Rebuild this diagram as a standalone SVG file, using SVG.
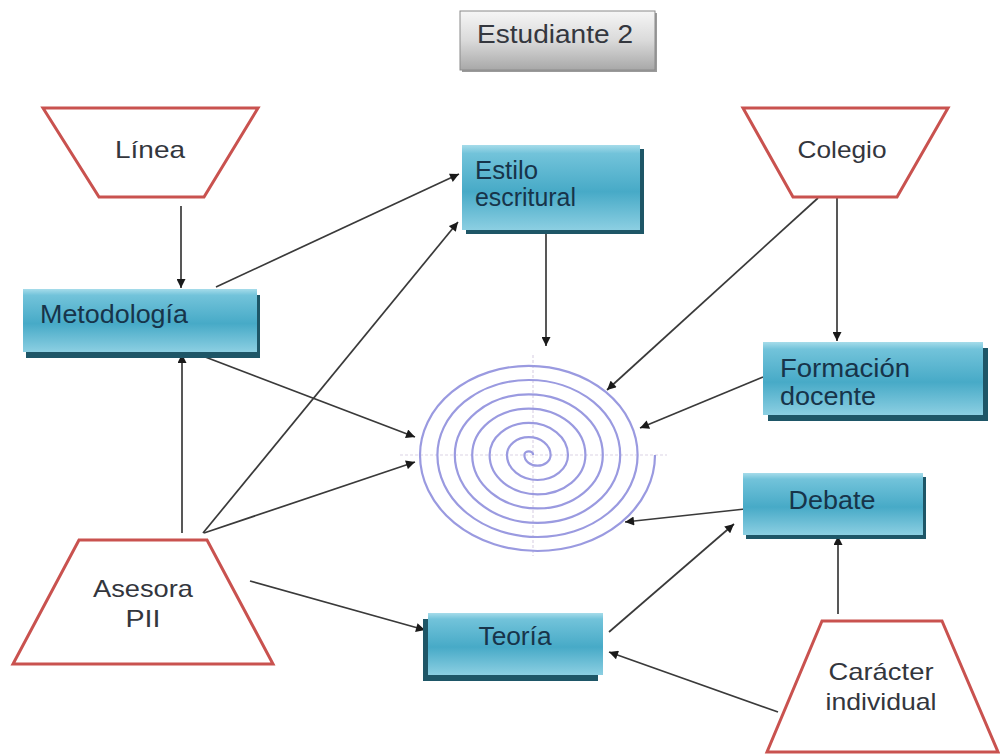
<svg xmlns="http://www.w3.org/2000/svg" width="1000" height="754" viewBox="0 0 1000 754">
  <defs>
    <linearGradient id="blue" x1="0" y1="0" x2="0" y2="1">
      <stop offset="0" stop-color="#a6dcea"/>
      <stop offset="0.1" stop-color="#72c3da"/>
      <stop offset="0.55" stop-color="#47aac7"/>
      <stop offset="1" stop-color="#8ccfe2"/>
    </linearGradient>
    <linearGradient id="gray" x1="0" y1="0" x2="0" y2="1">
      <stop offset="0" stop-color="#f6f6f6"/>
      <stop offset="0.5" stop-color="#dadada"/>
      <stop offset="1" stop-color="#a8a8a8"/>
    </linearGradient>
    <marker id="arr" viewBox="0 0 10 10" refX="10" refY="5" markerWidth="10" markerHeight="9" markerUnits="userSpaceOnUse" orient="auto">
      <path d="M0,0 L10,5 L0,10 z" fill="#1a1a1a"/>
    </marker>
    <style>
      .trap { fill: #ffffff; stroke: #c9524f; stroke-width: 3; stroke-linejoin: miter; }
      .box { fill: url(#blue); }
      .shadow { fill: #1e5667; }
      .ttxt { font-family: "Liberation Sans", Arial, sans-serif; font-size: 24px; fill: #33363d; }
      .btxt { font-family: "Liberation Sans", Arial, sans-serif; font-size: 25px; fill: #17344a; }
      .conn { stroke: #3a3a3a; stroke-width: 1.7; fill: none; marker-end: url(#arr); }
      .spiral { fill: none; stroke: #9a9ae0; stroke-width: 2.2; }
      .axis { stroke: #dcd4e6; stroke-width: 1.2; stroke-dasharray: 3 2; }
    </style>
  </defs>
  <rect width="1000" height="754" fill="#ffffff"/>

  <g id="title">
    <rect x="462" y="13" width="195" height="59" fill="#9a9a9a"/>
    <rect x="460" y="11" width="195" height="59" fill="url(#gray)" stroke="#8a8a8a" stroke-width="1"/>
    <text x="477" y="43" font-family="'Liberation Sans', Arial, sans-serif" font-size="25" fill="#34373e" textLength="156" lengthAdjust="spacingAndGlyphs">Estudiante 2</text>
  </g>

  <g id="spiral">
    <line class="axis" x1="400" y1="455" x2="667" y2="455"/>
    <line class="axis" x1="533" y1="355" x2="533" y2="556"/>
    <path class="spiral" d="M655,455 A117.5,96 0 0 1 420,455 A108.8,89.2 0 0 1 637.6,455 A100.1,82 0 0 1 437.4,455 A91.4,75 0 0 1 620.2,455 A82.7,67.8 0 0 1 454.8,455 A74,60.7 0 0 1 602.8,455 A65.3,53.5 0 0 1 472.2,455 A56.6,46.4 0 0 1 585.4,455 A47.9,39.3 0 0 1 489.6,455 A39.2,32.1 0 0 1 568,455 A30.5,25 0 0 1 507,455 A21.8,17.9 0 0 1 550.6,455 A13.1,10.7 0 0 1 524.4,455 A4.4,3.6 0 0 1 533.2,455"/>
  </g>

  <g id="connectors">
    <line class="conn" x1="181" y1="206" x2="181" y2="288"/>
    <line class="conn" x1="216" y1="287" x2="459" y2="174"/>
    <line class="conn" x1="203" y1="533" x2="458" y2="222"/>
    <line class="conn" x1="182" y1="533" x2="182" y2="354"/>
    <line class="conn" x1="200" y1="355" x2="415" y2="437"/>
    <line class="conn" x1="204" y1="533" x2="415" y2="462"/>
    <line class="conn" x1="546" y1="234" x2="546" y2="346"/>
    <line class="conn" x1="818" y1="198" x2="607" y2="390"/>
    <line class="conn" x1="837" y1="198" x2="837" y2="341"/>
    <line class="conn" x1="763" y1="377" x2="640" y2="428"/>
    <line class="conn" x1="745" y1="509" x2="625" y2="522"/>
    <line class="conn" x1="250" y1="581" x2="425" y2="630"/>
    <line class="conn" x1="609" y1="632" x2="734" y2="524"/>
    <line class="conn" x1="778" y1="712" x2="609" y2="652"/>
    <line class="conn" x1="838" y1="614" x2="838" y2="536"/>
  </g>

  <g id="linea">
    <polygon class="trap" points="43,108 258,108 204,197 99,197"/>
    <text class="ttxt" x="150" y="158" text-anchor="middle" textLength="70" lengthAdjust="spacingAndGlyphs">Línea</text>
  </g>

  <g id="colegio">
    <polygon class="trap" points="743,108 948,108 897,197 793,197"/>
    <text class="ttxt" x="842" y="158" text-anchor="middle" textLength="89" lengthAdjust="spacingAndGlyphs">Colegio</text>
  </g>

  <g id="asesora">
    <polygon class="trap" points="79,540 207,540 273,664 13,664"/>
    <text class="ttxt" x="143" y="597" text-anchor="middle" textLength="100" lengthAdjust="spacingAndGlyphs">Asesora</text>
    <text class="ttxt" x="143" y="627" text-anchor="middle" textLength="35" lengthAdjust="spacingAndGlyphs">PII</text>
  </g>

  <g id="caracter">
    <polygon class="trap" points="822,621 942,621 998,752 767,752"/>
    <text class="ttxt" x="881" y="680" text-anchor="middle" textLength="105" lengthAdjust="spacingAndGlyphs">Carácter</text>
    <text class="ttxt" x="881" y="710" text-anchor="middle" textLength="111" lengthAdjust="spacingAndGlyphs">individual</text>
  </g>

  <g id="metodologia">
    <rect class="shadow" x="26" y="295" width="234" height="63"/>
    <rect class="box" x="23" y="289" width="234" height="63"/>
    <text class="btxt" x="40" y="323" textLength="148" lengthAdjust="spacingAndGlyphs">Metodología</text>
  </g>

  <g id="estilo">
    <rect class="shadow" x="466" y="149" width="178" height="85"/>
    <rect class="box" x="462" y="145" width="178" height="85"/>
    <text class="btxt" x="475" y="179" font-size="21" textLength="63" lengthAdjust="spacingAndGlyphs">Estilo</text>
    <text class="btxt" x="475" y="206" font-size="21" textLength="101" lengthAdjust="spacingAndGlyphs">escritural</text>
  </g>

  <g id="formacion">
    <rect class="shadow" x="768" y="348" width="220" height="73"/>
    <rect class="box" x="763" y="342" width="220" height="73"/>
    <text class="btxt" x="780" y="377" textLength="130" lengthAdjust="spacingAndGlyphs">Formación</text>
    <text class="btxt" x="780" y="405" textLength="96" lengthAdjust="spacingAndGlyphs">docente</text>
  </g>

  <g id="debate">
    <rect class="shadow" x="746" y="477" width="180" height="62"/>
    <rect class="box" x="743" y="473" width="180" height="62"/>
    <text class="btxt" x="832" y="509" text-anchor="middle" textLength="87" lengthAdjust="spacingAndGlyphs">Debate</text>
  </g>

  <g id="teoria">
    <rect class="shadow" x="423" y="619" width="175" height="62"/>
    <rect class="box" x="428" y="613" width="175" height="62"/>
    <text class="btxt" x="515" y="645" text-anchor="middle" textLength="73" lengthAdjust="spacingAndGlyphs">Teoría</text>
  </g>
</svg>
